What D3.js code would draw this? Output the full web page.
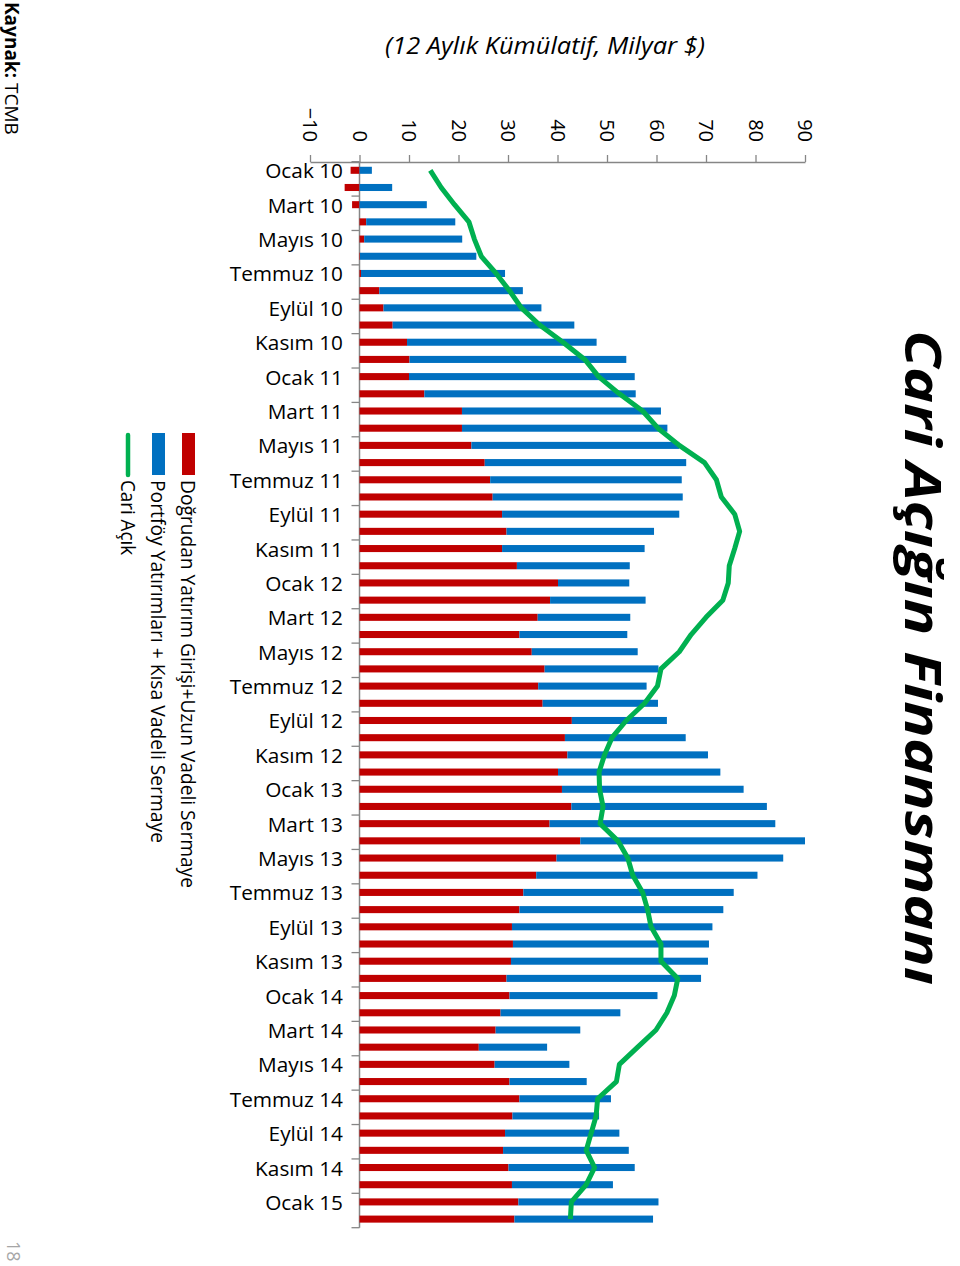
<!DOCTYPE html>
<html>
<head>
<meta charset="utf-8">
<script src="https://cdn.jsdelivr.net/npm/d3@7"></script>
<style>
  html, body { margin: 0; padding: 0; background: #fff; }
  svg { display: block; font-family: "Open Sans", "DejaVu Sans", sans-serif; }
</style>
</head>
<body>
<svg id="chart" width="960" height="1266"></svg>
<script>
// ---- DATA ----
const categories = [
  "Ocak 10","Şubat 10","Mart 10","Nisan 10","Mayıs 10","Haziran 10","Temmuz 10","Ağustos 10","Eylül 10","Ekim 10","Kasım 10","Aralık 10",
  "Ocak 11","Şubat 11","Mart 11","Nisan 11","Mayıs 11","Haziran 11","Temmuz 11","Ağustos 11","Eylül 11","Ekim 11","Kasım 11","Aralık 11",
  "Ocak 12","Şubat 12","Mart 12","Nisan 12","Mayıs 12","Haziran 12","Temmuz 12","Ağustos 12","Eylül 12","Ekim 12","Kasım 12","Aralık 12",
  "Ocak 13","Şubat 13","Mart 13","Nisan 13","Mayıs 13","Haziran 13","Temmuz 13","Ağustos 13","Eylül 13","Ekim 13","Kasım 13","Aralık 13",
  "Ocak 14","Şubat 14","Mart 14","Nisan 14","Mayıs 14","Haziran 14","Temmuz 14","Ağustos 14","Eylül 14","Ekim 14","Kasım 14","Aralık 14",
  "Ocak 15","Şubat 15"
];
// Doğrudan Yatırım Girişi + Uzun Vadeli Sermaye
const dogrudan = [
  -1.8,-3.0,-1.5,1.35,0.95,0.1,0.3,4.0,4.85,6.7,9.6,10.1,
  10.0,13.1,20.7,20.7,22.6,25.3,26.4,26.9,28.8,29.7,28.8,31.8,
  40.1,38.5,36.0,32.3,34.8,37.4,36.1,37.0,42.9,41.5,42.0,40.1,
  40.9,42.8,38.4,44.6,39.8,35.7,33.1,32.3,30.8,31.0,30.6,29.7,
  30.3,28.5,27.5,24.1,27.3,30.3,32.3,30.9,29.4,29.0,30.1,30.8,
  32.1,31.3
];
// Portföy Yatırımları + Kısa Vadeli Sermaye
const portfoy = [
  2.5,6.6,13.6,18.0,19.8,23.5,29.1,29.0,31.9,36.7,38.3,43.8,
  45.6,42.7,40.2,41.5,42.0,40.7,38.7,38.4,35.8,29.8,28.8,22.8,
  14.4,19.3,18.7,21.8,21.4,23.0,21.9,23.3,19.2,24.4,28.4,32.8,
  36.7,39.5,45.6,45.4,45.8,44.7,42.5,41.2,40.5,39.6,39.8,39.3,
  29.9,24.2,17.1,13.8,15.1,15.6,18.5,17.5,23.1,25.4,25.5,20.4,
  28.3,28.0
];
// Cari Açık
const cariAcik = [
  14.3,16.5,19.2,22.1,23.2,24.6,27.6,30.3,32.7,36.4,41.1,45.5,
  48.3,52.5,57.2,60.3,64.6,69.7,72.1,73.1,75.8,76.8,75.8,74.7,
  74.5,73.4,70.0,67.0,64.6,60.9,60.2,57.6,53.9,51.0,49.5,48.4,
  48.5,49.2,48.6,52.2,54.2,55.2,57.2,58.2,58.9,60.9,60.9,64.3,
  63.6,62.1,59.9,56.2,52.5,51.9,48.1,47.8,46.8,45.8,47.5,45.8,
  42.8,42.6
];
const valueTicks = [-10,0,10,20,30,40,50,60,70,80,90];
const seriesNames = ["Doğrudan Yatırım Girişi+Uzun Vadeli Sermaye","Portföy Yatırımları + Kısa Vadeli Sermaye","Cari Açık"];

// ---- STYLE ----
const RED = "#c00000", BLUE = "#0070c0", GREEN = "#00b050", AXIS = "#868686";

const svg = d3.select("#chart");

const x = d3.scaleLinear().domain([-10, 90]).range([310, 805]);
const y = d3.scaleBand().domain(categories).range([161.7, 1227.7]).paddingInner(0.59).paddingOuter(0.295);
const step = y.step();
const cy = d => y(d) + y.bandwidth() / 2;

// value axis (top)
const ax = svg.append("g").attr("transform", "translate(0,162)")
  .call(d3.axisTop(x).tickValues(valueTicks).tickSize(7).tickSizeOuter(0));
ax.select(".domain").attr("stroke", AXIS).attr("stroke-width", 1.3);
ax.selectAll(".tick line").attr("stroke", AXIS).attr("stroke-width", 1.3);
ax.selectAll(".tick text")
  .attr("transform", "translate(0,-20) rotate(90)")
  .attr("x", 0).attr("y", 0).attr("dy", null)
  .attr("text-anchor", "end")
  .attr("dominant-baseline", "central")
  .attr("font-size", 20)
  .attr("font-family", "Open Sans")
  .attr("fill", "#000");

// category axis line
svg.append("line").attr("x1", x(0)).attr("x2", x(0))
  .attr("y1", 161.7).attr("y2", 1227.7)
  .attr("stroke", AXIS).attr("stroke-width", 1.5);
// category tick marks every 2
const tickIdx = d3.range(0, categories.length + 1, 2);
svg.append("g").selectAll("line").data(tickIdx).join("line")
  .attr("x1", x(0) - 8).attr("x2", x(0))
  .attr("y1", i => (i < categories.length ? y(categories[i]) - (step - y.bandwidth()) / 2 : y.range()[1]))
  .attr("y2", i => (i < categories.length ? y(categories[i]) - (step - y.bandwidth()) / 2 : y.range()[1]))
  .attr("stroke", AXIS).attr("stroke-width", 1.3);
// category labels
svg.append("g").selectAll("text").data(categories.filter((d, i) => i % 2 === 0)).join("text")
  .attr("x", 343).attr("y", d => cy(d))
  .attr("text-anchor", "end").attr("dominant-baseline", "central")
  .attr("font-size", 20.8).attr("fill", "#000")
  .text(d => d);

// bars
const data = categories.map((c, i) => ({ c, r: dogrudan[i], b: portfoy[i], l: cariAcik[i] }));
svg.append("g").selectAll("rect").data(data).join("rect")
  .attr("x", d => x(Math.min(0, d.r)))
  .attr("width", d => Math.abs(x(d.r) - x(0)))
  .attr("y", d => y(d.c)).attr("height", y.bandwidth())
  .attr("fill", RED);
svg.append("g").selectAll("rect").data(data).join("rect")
  .attr("x", d => x(Math.max(0, d.r)))
  .attr("width", d => x(Math.max(0, d.r) + d.b) - x(Math.max(0, d.r)))
  .attr("y", d => y(d.c)).attr("height", y.bandwidth())
  .attr("fill", BLUE);

// line
svg.append("path").datum(data)
  .attr("d", d3.line().x(d => x(d.l)).y(d => cy(d.c)))
  .attr("fill", "none").attr("stroke", GREEN).attr("stroke-width", 5)
  .attr("stroke-linejoin", "round").attr("stroke-linecap", "butt");

// legend (rotated)
const lg = svg.append("g").attr("transform", "translate(195,433) rotate(90)");
lg.append("rect").attr("x", 0).attr("y", 0).attr("width", 42).attr("height", 13).attr("fill", RED);
lg.append("rect").attr("x", 0).attr("y", 30).attr("width", 42).attr("height", 13).attr("fill", BLUE);
lg.append("line").attr("x1", 2).attr("x2", 42).attr("y1", 67).attr("y2", 67)
  .attr("stroke", GREEN).attr("stroke-width", 4.5).attr("stroke-linecap", "round");
const lgY = [6.5, 36.5, 67];
const lgLen = [408, 363, 75];
seriesNames.forEach((n, i) => {
  lg.append("text").attr("x", 47).attr("y", lgY[i])
    .attr("dominant-baseline", "central").attr("font-size", 19.5).attr("fill", "#000")
    .attr("textLength", lgLen[i]).attr("lengthAdjust", "spacingAndGlyphs")
    .text(n);
});

// title (rotated)
svg.append("text").attr("transform", "translate(924,330) rotate(90)")
  .attr("dominant-baseline", "central")
  .attr("font-size", 50).attr("font-weight", "bold").attr("font-style", "italic")
  .attr("font-family", "'Open Sans', sans-serif")
  .attr("textLength", 655).attr("lengthAdjust", "spacingAndGlyphs")
  .text("Cari Açığın Finansmanı");

// subtitle
svg.append("text").attr("x", 545).attr("y", 45)
  .attr("text-anchor", "middle").attr("dominant-baseline", "central")
  .attr("font-size", 23).attr("font-style", "italic")
  .attr("textLength", 320).attr("lengthAdjust", "spacingAndGlyphs")
  .text("(12 Aylık Kümülatif, Milyar $)");

// source (rotated)
const src = svg.append("text").attr("transform", "translate(12,2) rotate(90)")
  .attr("dominant-baseline", "central").attr("font-size", 19).attr("fill", "#000");
src.append("tspan").attr("font-weight", "bold").text("Kaynak:");
src.append("tspan").text(" TCMB");

// page number
svg.append("text").attr("transform", "translate(14,1241) rotate(90)")
  .attr("dominant-baseline", "central").attr("font-size", 18).attr("fill", "#a6a6a6")
  .text("18");
</script>
</body>
</html>
